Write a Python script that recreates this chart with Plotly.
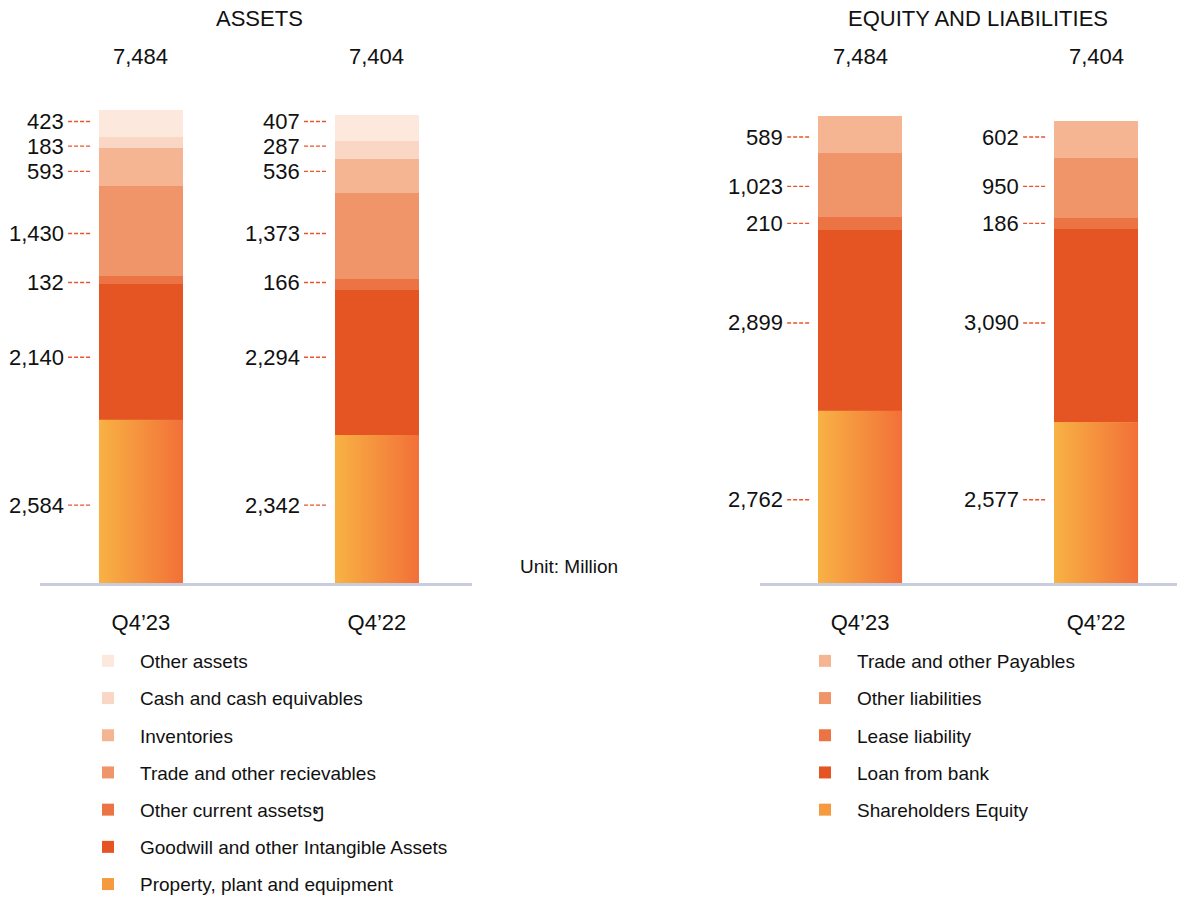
import plotly.graph_objects as go

# ---------------- data ----------------
periods = ["Q4’23", "Q4’22"]

asset_names = ["Property, plant and equipment", "Goodwill and other Intangible Assets",
               "Other current assetsໆ", "Trade and other recievables", "Inventories",
               "Cash and cash equivables", "Other assets"]
asset_q423 = [2584, 2140, 132, 1430, 593, 183, 423]
asset_q422 = [2342, 2294, 166, 1373, 536, 287, 407]
asset_totals = [7484, 7404]

eq_names = ["Shareholders Equity", "Loan from bank", "Lease liability",
            "Other liabilities", "Trade and other Payables"]
eq_q423 = [2762, 2899, 210, 1023, 589]
eq_q422 = [2577, 3090, 186, 950, 602]
eq_totals = [7484, 7404]

# ---------------- style ----------------
asset_colors = ["#F59A3E", "#E55423", "#EC7444", "#F0956A", "#F5B593", "#FAD7C4", "#FDE8DE"]
eq_colors = ["#F59A3E", "#E55423", "#EC7444", "#F0956A", "#F5B593"]
grad_scale = [[0, "#F8B244"], [1, "#F27038"]]
FONT = "Liberation Sans, Arial, sans-serif"
W = 1177
H = 898
BW = 0.356
LEADER = "#E8552A"
MIN_GAP = 390  # minimum label separation in value units

fig = go.Figure()

xpos = [0, 1]


def add_panel(names, v1, v2, colors, xa, ya, legend):
    n = len(names)
    for k, name in enumerate(names):
        fig.add_trace(go.Bar(
            x=xpos, y=[v1[k], v2[k]], name=name, width=BW,
            marker=dict(color=colors[k], line=dict(width=0)),
            xaxis=xa, yaxis=ya, legend=legend, legendgroup=legend + str(k),
            legendrank=n - k, hoverinfo="skip",
        ))
    # gradient overlay for the bottom segment
    for i, v in enumerate([v1[0], v2[0]]):
        fig.add_trace(go.Scatter(
            x=[xpos[i] - BW / 2, xpos[i] + BW / 2, xpos[i] + BW / 2, xpos[i] - BW / 2, xpos[i] - BW / 2],
            y=[0, 0, v, v, 0], fill="toself", mode="none",
            fillgradient=dict(type="horizontal", colorscale=grad_scale),
            showlegend=False, xaxis=xa, yaxis=ya, hoverinfo="skip",
        ))


add_panel(asset_names, asset_q423, asset_q422, asset_colors, "x", "y", "legend")
add_panel(eq_names, eq_q423, eq_q422, eq_colors, "x2", "y2", "legend2")

annotations = []
shapes = []


def mids(vals):
    out, base = [], 0
    for v in vals:
        out.append(base + v / 2)
        base += v
    return out


def labels(v1, v2, totals, xref, yref, total_shift):
    m1, m2 = mids(v1), mids(v2)
    pos = [(a + b) / 2 for a, b in zip(m1, m2)]
    for k in range(1, len(pos)):
        if pos[k] < pos[k - 1] + MIN_GAP:
            pos[k] = pos[k - 1] + MIN_GAP
    top = max(totals)
    for i, vals in enumerate([v1, v2]):
        for k, v in enumerate(vals):
            y = pos[k]
            annotations.append(dict(
                x=xpos[i], y=y, xref=xref, yref=yref, text=f"{v:,}",
                showarrow=False, xanchor="right", yanchor="middle", xshift=-75,
                font=dict(family=FONT, size=22, color="#111111"),
            ))
            shapes.append(dict(
                type="line", xref=xref, yref=yref,
                x0=xpos[i] - 0.309, x1=xpos[i] - 0.208, y0=y, y1=y,
                line=dict(color=LEADER, width=1.4, dash="4px,2px"),
            ))
        annotations.append(dict(
            x=xpos[i], y=top, xref=xref, yref=yref, text=f"{totals[i]:,}",
            showarrow=False, xanchor="center", yanchor="middle", yshift=total_shift,
            font=dict(family=FONT, size=22, color="#111111"),
        ))


labels(asset_q423, asset_q422, asset_totals, "x", "y", 53)
labels(eq_q423, eq_q422, eq_totals, "x2", "y2", 59)

annotations += [
    dict(x=259 / W, y=1 - 19 / H, xref="paper", yref="paper", text="ASSETS", showarrow=False,
         xanchor="center", yanchor="middle", font=dict(family=FONT, size=22, color="#111111")),
    dict(x=978 / W, y=1 - 19 / H, xref="paper", yref="paper", text="EQUITY AND LIABILITIES",
         showarrow=False, xanchor="center", yanchor="middle",
         font=dict(family=FONT, size=22, color="#111111")),
    dict(x=518 / W, y=1 - 566 / H, xref="paper", yref="paper", text="Unit: Million",
         showarrow=False, xanchor="left", yanchor="middle",
         font=dict(family=FONT, size=19, color="#111111")),
]

y_bottom = 1 - 583 / H
y_top = 1 - 50 / H

axis_common = dict(showgrid=False, zeroline=False, showline=True, linecolor="#C8CCDC",
                   linewidth=3, ticks="", tickvals=xpos, ticktext=periods,
                   tickfont=dict(family=FONT, size=22, color="#111111"), ticklabelstandoff=18,
                   fixedrange=True)

legend_common = dict(xanchor="left", yanchor="top", y=1 - 642 / H, traceorder="grouped",
                     tracegroupgap=9.5, itemwidth=54,
                     font=dict(family=FONT, size=19, color="#111111"), bgcolor="rgba(0,0,0,0)")

fig.update_layout(
    width=W, height=H, margin=dict(l=0, r=0, t=0, b=0, autoexpand=False),
    paper_bgcolor="white", plot_bgcolor="white", barmode="stack", bargap=0,
    xaxis=dict(domain=[40 / W, 472 / W], range=[-0.428, 1.403], anchor="y", **axis_common),
    yaxis=dict(domain=[y_bottom, y_top], range=[0, 8433], visible=False, anchor="x"),
    xaxis2=dict(domain=[760 / W, 1.0], range=[-0.424, 1.343], anchor="y2", **axis_common),
    yaxis2=dict(domain=[y_bottom, y_top], range=[0, 8541], visible=False, anchor="x2"),
    legend=dict(x=76 / W, **legend_common),
    legend2=dict(x=793 / W, **legend_common),
    annotations=annotations, shapes=shapes, showlegend=True,
)

fig.write_html("out.html")
